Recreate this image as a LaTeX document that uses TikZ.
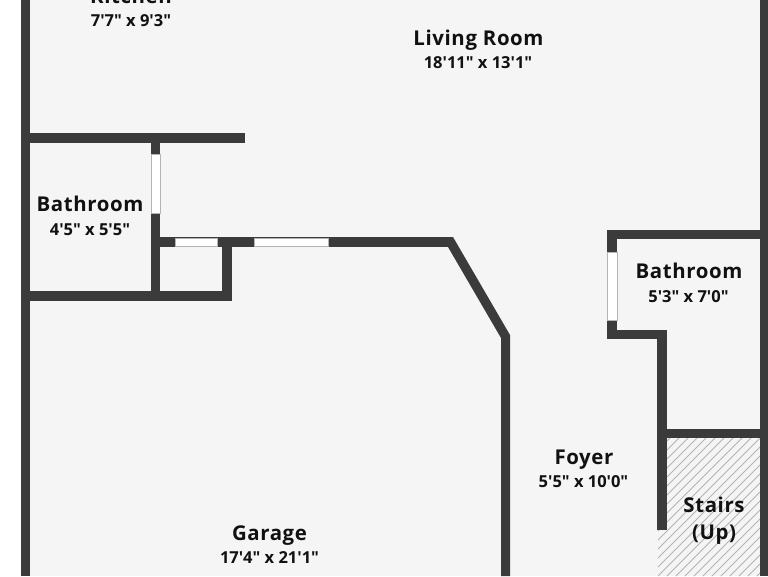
\documentclass[tikz,border=0pt]{standalone}
\usepackage{fontspec}
\setmainfont{Open Sans}[Ligatures=TeXOff]
\definecolor{wallc}{HTML}{3B3B3B}
\definecolor{floorc}{HTML}{F5F5F5}
\definecolor{textc}{HTML}{111111}
\definecolor{hatchc}{HTML}{B4B4B4}
\tikzset{
  wall/.style={fill=wallc,draw=none},
  win/.style={fill=white,draw=hatchc,line width=0.5pt},
  room/.style={font=\fontsize{20.4}{22}\selectfont\bfseries\addfontfeatures{LetterSpace=3},text=textc,inner sep=0pt,anchor=base},
  dim/.style={font=\fontsize{16.5}{17}\selectfont\bfseries,text=textc,inner sep=0pt,anchor=base},
}
\begin{document}
\begin{tikzpicture}[x=1pt,y=-1pt]
\useasboundingbox (0,0) rectangle (768,576);
\fill[white] (0,0) rectangle (768,576);
\fill[floorc] (21,0) rectangle (768,576);
% stairs hatch
\begin{scope}
\clip (667,438) -- (760,438) -- (760,576) -- (658,576) -- (658,530) -- (667,530) -- cycle;
\fill[floorc] (650,430) rectangle (768,576);
\foreach \i in {0,1,...,32}{
  \draw[hatchc,line width=0.9pt] ({500+9*\i},590) -- +(170,-170);
}
\end{scope}
% outer walls
\fill[wall] (21,0) rectangle (30,576);
\fill[wall] (760,0) rectangle (768,576);
% left block
\fill[wall] (21,133) rectangle (245,143);
\fill[wall] (151,143) rectangle (160,296);
\fill[wall] (21,291) rectangle (232,301);
\fill[wall] (222,237) rectangle (232,301);
\fill[wall] (151,237) rectangle (452,247);
% diagonal and garage wall
\fill[wall] (448,247) -- (448,237) -- (453,237) -- (510,335) -- (510,576) -- (501,576) -- (501,338) -- cycle;
% right bathroom
\fill[wall] (607,230) rectangle (768,239);
\fill[wall] (607,230) rectangle (617,339);
\fill[wall] (607,330) rectangle (667,339);
\fill[wall] (657,330) rectangle (667,530);
\fill[wall] (657,429) rectangle (768,438);
% windows
\fill[win] (151,154) rectangle (160,213);
\fill[win] (175,238) rectangle (217,246);
\fill[win] (254,238) rectangle (328,246);
\fill[win] (607,252) rectangle (617,320);
% labels
\node[room] (kitchen) at (131,3) {Kitchen};
\node[dim] (kitchend) at (131,26) {7'7" x 9'3"};
\node[room] (living) at (478.5,45) {Living Room};
\node[dim] (livingd) at (478,68) {18'11" x 13'1"};
\node[room] (bath1) at (90,211) {Bathroom};
\node[dim] (bath1d) at (90,235) {4'5" x 5'5"};
\node[room] (bath2) at (689,278) {Bathroom};
\node[dim] (bath2d) at (688.5,302) {5'3" x 7'0"};
\node[room] (foyer) at (584,464) {Foyer};
\node[dim] (foyerd) at (583.5,487) {5'5" x 10'0"};
\node[room] (stairs) at (714,512) {Stairs};
\node[room] (up) at (714,539) {(Up)};
\node[room] (garage) at (269.5,540) {Garage};
\node[dim] (garaged) at (269.5,563) {17'4" x 21'1"};
\end{tikzpicture}
\end{document}
